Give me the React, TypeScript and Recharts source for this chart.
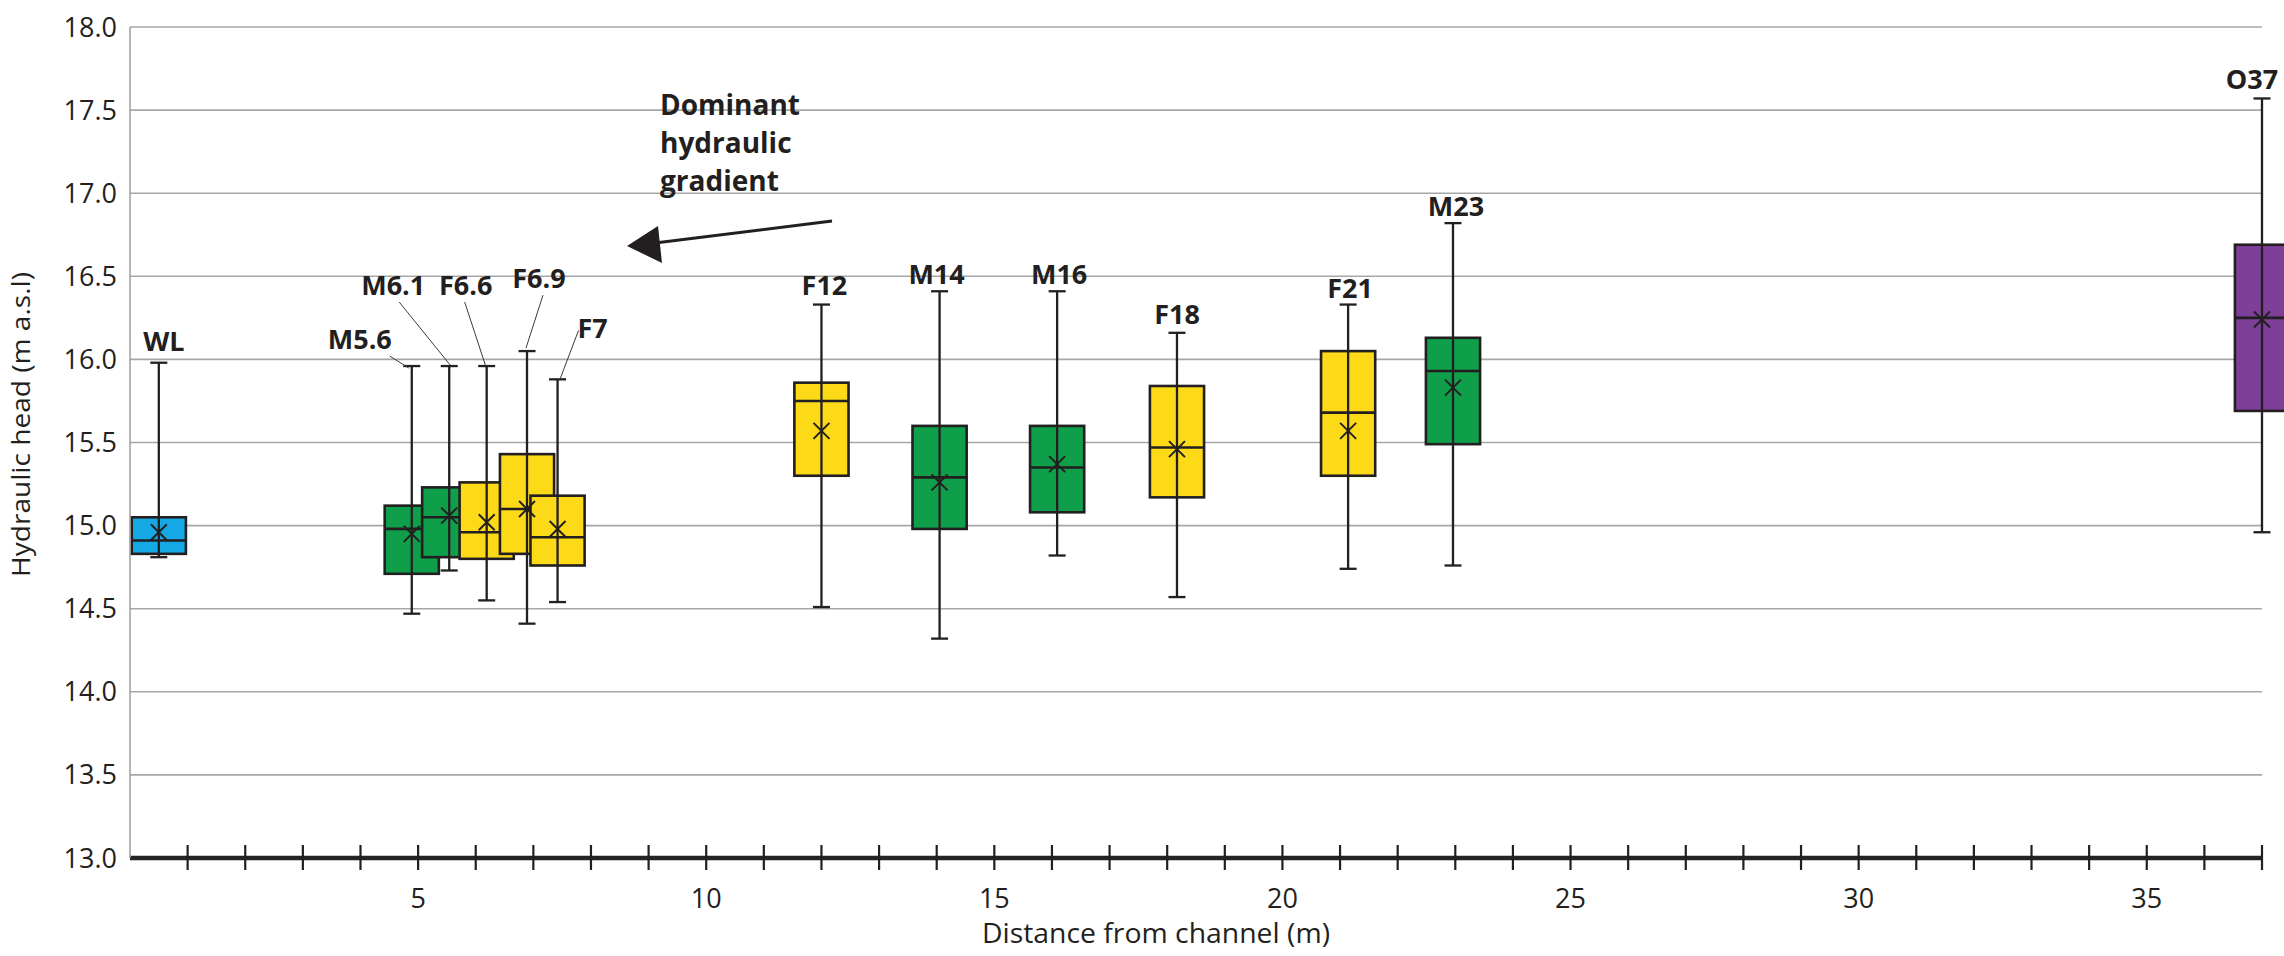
import React from "react";
import {
	ComposedChart,
	XAxis,
	YAxis,
	CartesianGrid,
	Scatter,
	ErrorBar,
	ReferenceArea,
} from "recharts";

// piezometer names, type (colour group) and plotted distance from channel (m)
const wells = ["WL", "M5.6", "M6.1", "F6.6", "F6.9", "F7", "F12", "M14", "M16", "F18", "F21", "M23", "O37"];
const wellType = ["WL", "M", "M", "F", "F", "F", "F", "M", "M", "F", "F", "M", "O"];
const xPos = [0.5, 4.89, 5.54, 6.19, 6.89, 7.42, 12.0, 14.05, 16.09, 18.17, 21.14, 22.96, 37.0];

// hydraulic head stats (m a.s.l.)
const maxHead = [15.98, 15.96, 15.96, 15.96, 16.05, 15.88, 16.33, 16.41, 16.41, 16.16, 16.33, 16.82, 17.57];
const q3Head = [15.05, 15.12, 15.23, 15.26, 15.43, 15.18, 15.86, 15.6, 15.6, 15.84, 16.05, 16.13, 16.69];
const medianHead = [14.91, 14.98, 15.05, 14.96, 15.1, 14.93, 15.75, 15.29, 15.35, 15.47, 15.68, 15.93, 16.25];
const q1Head = [14.83, 14.71, 14.81, 14.8, 14.83, 14.76, 15.3, 14.98, 15.08, 15.17, 15.3, 15.49, 15.69];
const minHead = [14.81, 14.47, 14.73, 14.55, 14.41, 14.54, 14.51, 14.32, 14.82, 14.57, 14.74, 14.76, 14.96];
const meanHead = [14.96, 14.95, 15.06, 15.02, 15.1, 14.98, 15.57, 15.26, 15.37, 15.46, 15.57, 15.83, 16.24];

const yTicks = [13, 13.5, 14, 14.5, 15, 15.5, 16, 16.5, 17, 17.5, 18];
const xTicks = [1, 2, 3, 4, 5, 6, 7, 8, 9, 10, 11, 12, 13, 14, 15, 16, 17, 18, 19, 20, 21, 22, 23, 24, 25, 26, 27, 28, 29, 30, 31, 32, 33, 34, 35, 36, 37];

// label placement (px, relative to whisker top) and leader lines
const labelDx = [5, -52, -56, -21, 12, 35, 3, -3, 2, 0, 2, 3, -10];
const labelDy = [-12, -17, -71, -71, -63, -41, -10, -7, -7, -9, -7, -7, -9];
const leaders: (number[] | null)[] = [
	null,
	[-22, -10, -3, 2],
	[-50, -64, 1, -1],
	[-22, -64, -1, 0],
	[16, -56, -1, -3],
	[21, -49, 2, 1],
	null, null, null, null, null, null, null,
];

const typeColor: Record<string, string> = {
	WL: "#14A9E4",
	M: "#0F9E4A",
	F: "#FDDA18",
	O: "#7E3F98",
};

const INK = "#231F20";
const BOX_HALF = 0.47; // box half width in x units
const FONT = "'Open Sans', sans-serif";

const rows = wells.map((name, i) => ({
	name,
	type: wellType[i],
	x: xPos[i],
	max: maxHead[i],
	q3: q3Head[i],
	median: medianHead[i],
	q1: q1Head[i],
	min: minHead[i],
	mean: meanHead[i],
	err: [maxHead[i] - minHead[i], 0],
}));

const BoxShape = (props: any) => {
	const { x, y, width, height, row } = props;
	const yMed = y + (height * (row.q3 - row.median)) / (row.q3 - row.q1);
	return (
		<g>
			<rect x={x} y={y} width={width} height={height} fill={typeColor[row.type]} stroke={INK} strokeWidth={2.6} />
			<line x1={x} x2={x + width} y1={yMed} y2={yMed} stroke={INK} strokeWidth={2.6} />
		</g>
	);
};

const WellLabel = (props: any) => {
	const { cx, cy, payload } = props;
	const i = wells.indexOf(payload.name);
	const ld = leaders[i];
	return (
		<g>
			{ld && (
				<line x1={cx + ld[0]} y1={cy + ld[1]} x2={cx + ld[2]} y2={cy + ld[3]} stroke="#3a3a3a" strokeWidth={1} />
			)}
			<text
				x={cx + labelDx[i]}
				y={cy + labelDy[i]}
				textAnchor="middle"
				fontFamily={FONT}
				fontWeight={700}
				fontSize={27}
				fill={INK}
			>
				{payload.name}
			</text>
		</g>
	);
};

const MeanCross = (props: any) => {
	const { cx, cy } = props;
	const s = 8;
	return (
		<g stroke={INK} strokeWidth={2}>
			<line x1={cx - s} y1={cy - s} x2={cx + s} y2={cy + s} />
			<line x1={cx - s} y1={cy + s} x2={cx + s} y2={cy - s} />
		</g>
	);
};

const XTick = (props: any) => {
	const { x, y, payload } = props;
	const v = payload.value;
	return (
		<g>
			<line x1={x} x2={x} y1={y - 13} y2={y + 12} stroke={INK} strokeWidth={2.2} />
			{v % 5 === 0 && (
				<text x={x} y={y + 50} textAnchor="middle" fontFamily={FONT} fontSize={27} fill={INK}>
					{v}
				</text>
			)}
		</g>
	);
};

const App = () => {
	return (
		<div style={{ position: "relative", width: 2284, height: 956, background: "#fff" }}>
			<style>{"body{margin:0}"}</style>
			<ComposedChart width={2284} height={956} margin={{ top: 27, right: 22, bottom: 0, left: 0 }}>
				<CartesianGrid vertical={false} stroke="#a7a7a7" strokeWidth={1.6} />
				<XAxis
					type="number"
					dataKey="x"
					domain={[0, 37]}
					ticks={xTicks}
					interval={0}
					height={98}
					tickSize={0}
					tickMargin={0}
					tickLine={false}
					tick={<XTick />}
					axisLine={{ stroke: "#262324", strokeWidth: 4.5 }}
					label={{
						content: (p: any) => {
							const vb = p.viewBox;
							return (
								<text
									x={vb.x + vb.width / 2 - 40}
									y={943}
									textAnchor="middle"
									fontFamily={FONT}
									fontSize={28}
									fill={INK}
									textLength={348}
									lengthAdjust="spacingAndGlyphs"
								>
									Distance from channel (m)
								</text>
							);
						},
					}}
				/>
				<YAxis
					type="number"
					domain={[13, 18]}
					ticks={yTicks}
					interval={0}
					width={130}
					tickSize={0}
					tickMargin={13}
					tickLine={false}
					tickFormatter={(v: number) => v.toFixed(1)}
					tick={{ fill: INK, fontSize: 27, fontFamily: FONT }}
					axisLine={{ stroke: "#9c9c9c", strokeWidth: 1.5 }}
					label={{
						content: (p: any) => {
							const vb = p.viewBox;
							const cy = vb.y + vb.height / 2 - 18;
							return (
								<text
									x={30}
									y={cy}
									transform={`rotate(-90, 30, ${cy})`}
									textAnchor="middle"
									fontFamily={FONT}
									fontSize={26}
									fill={INK}
									textLength={305}
									lengthAdjust="spacingAndGlyphs"
								>
									Hydraulic head (m a.s.l)
								</text>
							);
						},
					}}
				/>
				{rows.map((r) => (
					<ReferenceArea
						key={r.name}
						x1={r.x - BOX_HALF}
						x2={r.x + BOX_HALF}
						y1={r.q1}
						y2={r.q3}
						ifOverflow="visible"
						shape={(p: any) => <BoxShape {...p} row={r} />}
					/>
				))}
				<Scatter data={rows} dataKey="max" shape={<WellLabel />} isAnimationActive={false}>
					<ErrorBar dataKey="err" direction="y" width={8.5} strokeWidth={2.3} stroke={INK} />
				</Scatter>
				<Scatter data={rows} dataKey="mean" shape={<MeanCross />} isAnimationActive={false} />
			</ComposedChart>
			<svg
				width={2284}
				height={956}
				style={{ position: "absolute", left: 0, top: 0, pointerEvents: "none" }}
			>
				<g fontFamily={FONT} fontWeight={700} fontSize={28} fill={INK}>
					<text x={660} y={115}>Dominant</text>
					<text x={660} y={153}>hydraulic</text>
					<text x={660} y={191}>gradient</text>
				</g>
				<line x1={832} y1={221} x2={655} y2={243} stroke={INK} strokeWidth={3} />
				<polygon points="627,246 658,226 662,263" fill={INK} />
			</svg>
		</div>
	);
};

export default App;
